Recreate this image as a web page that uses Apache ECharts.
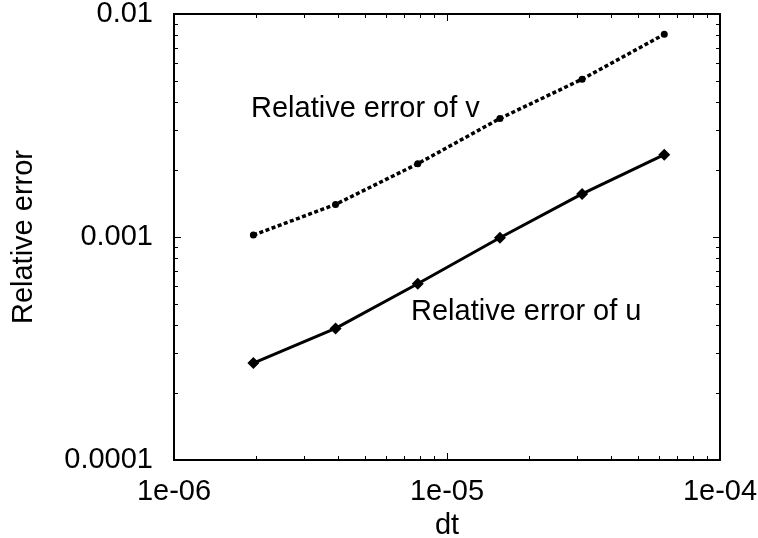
<!DOCTYPE html>
<html>
<head>
<meta charset="utf-8">
<script src="https://cdn.jsdelivr.net/npm/echarts@6/dist/echarts.min.js"></script>
<style>html,body{margin:0;padding:0;background:#fff}#c{width:758px;height:538px}</style>
</head>
<body>
<div id="c"></div>
<script>
const dt = [1.953125e-6, 3.90625e-6, 7.8125e-6, 1.5625e-5, 3.125e-5, 6.25e-5];
const errU = [2.72e-4, 3.89e-4, 6.17e-4, 9.92e-4, 1.56e-3, 2.34e-3];
const errV = [1.02e-3, 1.40e-3, 2.13e-3, 3.40e-3, 5.10e-3, 8.11e-3];
const xMajor = [1e-6, 1e-5, 1e-4];
const xTickLabels = ['1e-06', '1e-05', '1e-04'];
const yMajor = [1e-4, 1e-3, 1e-2];
const yTickLabels = ['0.0001', '0.001', '0.01'];
const xMinor = [];
[1e-6, 1e-5].forEach(d => { for (let k = 2; k <= 9; k++) xMinor.push(k * d); });
const yMinor = [];
[1e-4, 1e-3].forEach(d => { for (let k = 2; k <= 9; k++) yMinor.push(k * d); });

const FONT = 'Liberation Sans, Arial, sans-serif';
const FS = 29;
const lineCol = '#000';

function labelFor(vals, labels) {
  return v => {
    const e = Math.round(Math.log10(v));
    for (let i = 0; i < vals.length; i++) if (Math.round(Math.log10(vals[i])) === e) return labels[i];
    return '';
  };
}

function axisBase(extraX) {
  return Object.assign({
    type: 'log', logBase: 10,
    splitLine: { show: false },
    axisLine: { show: false },
    axisLabel: { show: false },
    axisTick: { show: false }
  }, extraX);
}

const chart = echarts.init(document.getElementById('c'), null, { renderer: 'canvas' });
chart.setOption({
  animation: false,
  backgroundColor: '#fff',
  grid: { left: 174, top: 14, right: 38, bottom: 78, containLabel: false, outerBoundsMode: 'none' },
  xAxis: [
    axisBase({
      position: 'bottom', min: 1e-6, max: 1e-4,
      name: 'dt', nameLocation: 'middle', nameGap: 51,
      nameTextStyle: { fontFamily: FONT, fontSize: FS, color: '#000' },
      axisLine: { show: true, onZero: false, lineStyle: { color: lineCol, width: 2 } },
      axisTick: { show: true, inside: true, length: 7, customValues: xMajor, lineStyle: { color: lineCol, width: 1 } },
      axisLabel: { show: true, customValues: xMajor, margin: 17, fontFamily: FONT, fontSize: FS, color: '#000', formatter: labelFor(xMajor, xTickLabels) }
    }),
    axisBase({
      position: 'bottom', min: 1e-6, max: 1e-4,
      axisTick: { show: true, inside: true, length: 4, customValues: xMinor, lineStyle: { color: lineCol, width: 1 } }
    }),
    axisBase({
      position: 'top', min: 1e-6, max: 1e-4,
      axisLine: { show: true, onZero: false, lineStyle: { color: lineCol, width: 2 } },
      axisTick: { show: true, inside: true, length: 7, customValues: xMajor, lineStyle: { color: lineCol, width: 1 } }
    }),
    axisBase({
      position: 'top', min: 1e-6, max: 1e-4,
      axisTick: { show: true, inside: true, length: 4, customValues: xMinor, lineStyle: { color: lineCol, width: 1 } }
    })
  ],
  yAxis: [
    axisBase({
      position: 'left', min: 1e-4, max: 1e-2,
      name: 'Relative error', nameLocation: 'middle', nameGap: 136, nameRotate: 90,
      nameTextStyle: { fontFamily: FONT, fontSize: FS, color: '#000' },
      axisLine: { show: true, onZero: false, lineStyle: { color: lineCol, width: 2 } },
      axisTick: { show: true, inside: true, length: 7, customValues: yMajor, lineStyle: { color: lineCol, width: 1 } },
      axisLabel: { show: true, customValues: yMajor, margin: 21, fontFamily: FONT, fontSize: FS, color: '#000', formatter: labelFor(yMajor, yTickLabels) }
    }),
    axisBase({
      position: 'left', min: 1e-4, max: 1e-2,
      axisTick: { show: true, inside: true, length: 4, customValues: yMinor, lineStyle: { color: lineCol, width: 1 } }
    }),
    axisBase({
      position: 'right', min: 1e-4, max: 1e-2,
      axisLine: { show: true, onZero: false, lineStyle: { color: lineCol, width: 2 } },
      axisTick: { show: true, inside: true, length: 7, customValues: yMajor, lineStyle: { color: lineCol, width: 1 } }
    }),
    axisBase({
      position: 'right', min: 1e-4, max: 1e-2,
      axisTick: { show: true, inside: true, length: 4, customValues: yMinor, lineStyle: { color: lineCol, width: 1 } }
    })
  ],
  series: [
    {
      name: 'Relative error of u', type: 'line', xAxisIndex: 0, yAxisIndex: 0,
      data: dt.map((x, i) => [x, errU[i]]),
      symbol: 'diamond', symbolSize: 12,
      lineStyle: { color: '#000', width: 3, type: 'solid' },
      itemStyle: { color: '#000' },
      z: 3
    },
    {
      name: 'Relative error of v', type: 'line', xAxisIndex: 0, yAxisIndex: 0,
      data: dt.map((x, i) => [x, errV[i]]),
      symbol: 'circle', symbolSize: 7,
      lineStyle: { color: '#000', width: 3.5, type: [4, 2.5] },
      itemStyle: { color: '#000' },
      z: 3
    }
  ],
  graphic: [
    { type: 'text', left: 251, top: 94, style: { text: 'Relative error of v', fontFamily: FONT, fontSize: FS, fill: '#000' } },
    { type: 'text', left: 411, top: 297, style: { text: 'Relative error of u', fontFamily: FONT, fontSize: FS, fill: '#000' } }
  ]
});
</script>
</body>
</html>
